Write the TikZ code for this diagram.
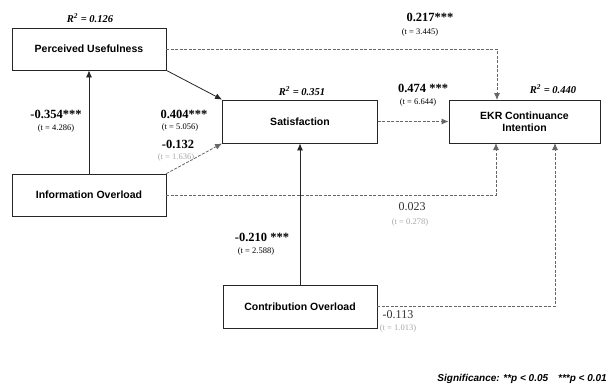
\documentclass[tikz,border=0pt]{standalone}
\usepackage{fontspec}
\setmainfont{Liberation Serif}
\setsansfont{Liberation Sans}
\usetikzlibrary{arrows.meta}
\begin{document}
\begin{tikzpicture}[x=1pt,y=-1pt,
  box/.style={draw=black!85, line width=0.8pt, minimum width=154pt, minimum height=42pt, inner sep=0pt, align=center,
    font=\sffamily\bfseries\fontsize{10.5}{12}\selectfont},
  solidarr/.style={draw=black!85, line width=0.8pt, -{Latex[length=7pt,width=6pt]}},
  dasharr/.style={draw=black!60, line width=0.8pt, dash pattern=on 3pt off 1.5pt, -{Latex[length=7pt,width=6pt]}},
  coef/.style={font=\bfseries\fontsize{12.5}{14}\selectfont, inner sep=0pt},
  coefthin/.style={font=\fontsize{12}{14}\selectfont, inner sep=0pt, text=black!80},
  tval/.style={font=\fontsize{8.5}{10}\selectfont, inner sep=0pt},
  tfaint/.style={font=\fontsize{8.5}{10}\selectfont, inner sep=0pt, text=black!35},
  rsq/.style={font=\bfseries\itshape\fontsize{10.5}{12}\selectfont, inner sep=0pt}
]
\useasboundingbox (0,0) rectangle (609,386);

% boxes
\node[box] (PU) at (89,49) {Perceived Usefulness};
\node[box] (IO) at (89,195) {Information Overload};
\node[box, minimum width=155pt, minimum height=43pt] (SAT) at (300,121.5) {Satisfaction};
\node[box, minimum width=151pt, minimum height=43pt] (EKR) at (524.5,121.5) {EKR Continuance\\Intention};
\node[box, minimum height=43pt] (CO) at (300,306.5) {Contribution Overload};

% R-squared labels
\node[rsq] (r1) at (90,18) {R\textsuperscript{2} = 0.126};
\node[rsq] (r2) at (302,91) {R\textsuperscript{2} = 0.351};
\node[rsq] (r3) at (553,89) {R\textsuperscript{2} = 0.440};

% connector end points
\coordinate (e1) at (497,100);
\coordinate (e2) at (496,143);
\coordinate (e3) at (555,143);

% connectors
\draw[solidarr] (IO.north) -- (PU.south);
\draw[solidarr] (PU.south east) -- (SAT.north west);
\draw[dasharr] (IO.north east) -- (SAT.south west);
\draw[dasharr] (PU.east) -| (e1);
\draw[dasharr] (SAT.east) -- (EKR.west);
\draw[dasharr] (IO.east) -| (e2);
\draw[solidarr] (CO.north) -- (SAT.south);
\draw[dasharr] (CO.east) -| (e3);

% coefficients
\node[coef] (c1) at (56,114) {-0.354***};
\node[tval] (t1) at (56,128) {(t = 4.286)};
\node[coef] (c2) at (184,114) {0.404***};
\node[tval] (t2) at (180,127) {(t = 5.056)};
\node[coef] (c3) at (178,144) {-0.132};
\node[tfaint] (t3) at (176,157) {(t = 1.636)};
\node[coef] (c4) at (430,17) {0.217***};
\node[tval] (t4) at (420,32) {(t = 3.445)};
\node[coef] (c5) at (423,88) {0.474 ***};
\node[tval] (t5) at (418,102) {(t = 6.644)};
\node[coefthin] (c6) at (412,207) {0.023};
\node[tfaint] (t6) at (410,222) {(t = 0.278)};
\node[coef] (c7) at (262,237) {-0.210 ***};
\node[tval] (t7) at (256,251) {(t = 2.588)};
\node[coefthin] (c8) at (398,315) {-0.113};
\node[tfaint] (t8) at (398,328) {(t = 1.013)};

% significance
\node[anchor=east, inner sep=0pt, font=\sffamily\bfseries\itshape\fontsize{10}{12}\selectfont] (sig) at (607,379)
  {Significance: **p < 0.05\quad ***p < 0.01};
\end{tikzpicture}
\end{document}
